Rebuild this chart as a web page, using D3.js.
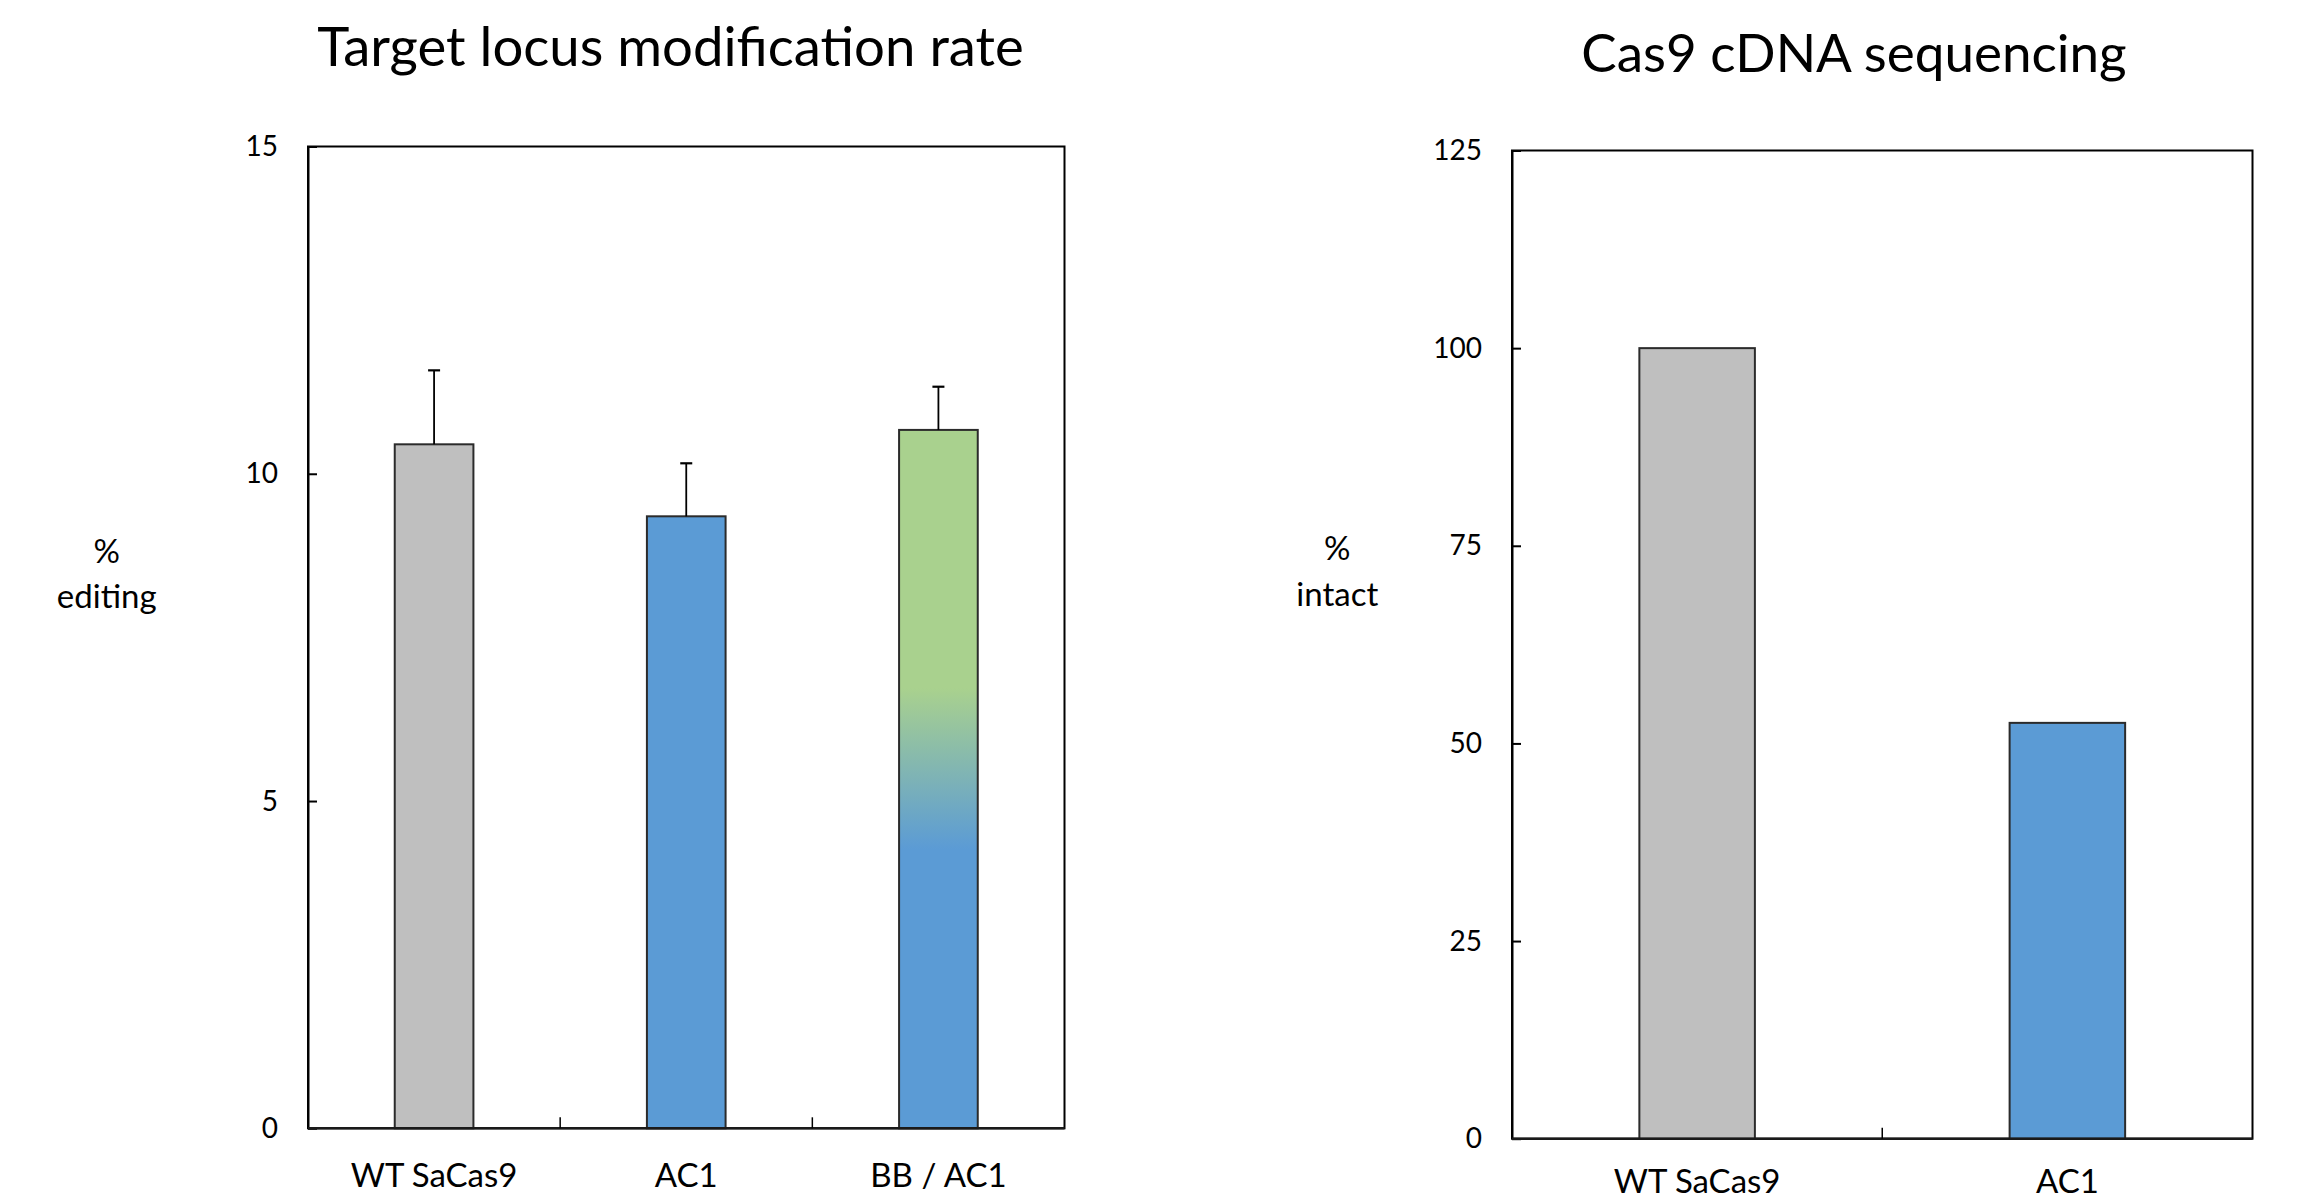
<html>
  <head>
    <style>
      body { margin: 0; background: #fff; }
      text { font-family: Lato, "Open Sans", sans-serif; fill: #000; }
    </style>
  </head>
  <body>
    <script src="https://d3js.org/d3.v7.min.js"></script>
    <script>
    // data
    var editCats = ["WT SaCas9", "AC1", "BB / AC1"];
    var editVals = [10.45, 9.35, 10.67];
    var editErr = [1.13, 0.81, 0.66];
    var editTicks = [0, 5, 10, 15];

    var intactCats = ["WT SaCas9", "AC1"];
    var intactVals = [100, 52.6];
    var intactTicks = [0, 25, 50, 75, 100, 125];

    var width = 2298, height = 1202;

    var svg = d3.select("body")
        .append("svg")
        .attr("width", width)
        .attr("height", height);

    // gradient for the BB / AC1 bar (green on top fading into blue)
    var grad = svg.append("defs").append("linearGradient")
        .attr("id", "bbgrad")
        .attr("x1", 0).attr("y1", 0).attr("x2", 0).attr("y2", 1);
    grad.append("stop").attr("offset", 0).attr("stop-color", "#A9D18E");
    grad.append("stop").attr("offset", 0.37).attr("stop-color", "#A9D18E");
    grad.append("stop").attr("offset", 0.6).attr("stop-color", "#5B9BD5");
    grad.append("stop").attr("offset", 1).attr("stop-color", "#5B9BD5");

    var fills = {
      "WT SaCas9": "#BFBFBF",
      "AC1": "#5B9BD5",
      "BB / AC1": "url(#bbgrad)"
    };

    function drawPanel(opt) {
      var x = d3.scaleBand().domain(opt.cats).range([opt.x0, opt.x1]).padding(0);
      var y = d3.scaleLinear().domain([0, opt.max]).range([opt.y1, opt.y0]);
      var g = svg.append("g");

      // frame
      g.append("rect")
          .attr("x", opt.x0).attr("y", opt.y0)
          .attr("width", opt.x1 - opt.x0).attr("height", opt.y1 - opt.y0)
          .attr("fill", "none").attr("stroke", "#000").attr("stroke-width", 2);

      // y axis, ticks pointing inwards
      var ya = g.append("g")
          .attr("transform", "translate(" + opt.x0 + ",0)")
          .call(d3.axisLeft(y).tickValues(opt.ticks).tickSizeInner(-9).tickSizeOuter(0).tickPadding(30));
      ya.select(".domain").attr("stroke-width", 2);
      ya.selectAll(".tick line").attr("stroke-width", 2);
      ya.selectAll("text").attr("font-size", 28).attr("font-family", "Lato");

      // bars
      var bw = x.bandwidth() * 0.312;
      g.selectAll(".bar")
          .data(opt.vals)
        .enter().append("rect")
          .attr("x", function(d, i) { return x(opt.cats[i]) + x.bandwidth() / 2 - bw / 2; })
          .attr("y", function(d) { return y(d); })
          .attr("width", bw)
          .attr("height", function(d) { return y(0) - y(d); })
          .attr("fill", function(d, i) { return fills[opt.cats[i]]; })
          .attr("stroke", "#2b2b2b")
          .attr("stroke-width", 2);

      // error bars (upper only)
      if (opt.err) {
        opt.vals.forEach(function(v, i) {
          var cx = x(opt.cats[i]) + x.bandwidth() / 2;
          g.append("line")
              .attr("x1", cx).attr("x2", cx)
              .attr("y1", y(v)).attr("y2", y(v + opt.err[i]))
              .attr("stroke", "#000").attr("stroke-width", 1.8);
          g.append("line")
              .attr("x1", cx - 6).attr("x2", cx + 6)
              .attr("y1", y(v + opt.err[i])).attr("y2", y(v + opt.err[i]))
              .attr("stroke", "#000").attr("stroke-width", 2.2);
        });
      }

      // x axis line + boundary ticks
      g.append("line")
          .attr("x1", opt.x0).attr("x2", opt.x1)
          .attr("y1", opt.y1).attr("y2", opt.y1)
          .attr("stroke", "#1a1a1a").attr("stroke-width", 2.5);
      g.selectAll(".btick")
          .data(opt.cats.slice(1))
        .enter().append("line")
          .attr("x1", function(d) { return x(d); })
          .attr("x2", function(d) { return x(d); })
          .attr("y1", opt.y1).attr("y2", opt.y1 - 11)
          .attr("stroke", "#000").attr("stroke-width", 1.5);

      var xa = g.append("g")
          .attr("transform", "translate(0," + opt.y1 + ")")
          .call(d3.axisBottom(x).tickSize(0));
      xa.select(".domain").remove();
      xa.selectAll("text")
          .attr("y", opt.labOff).attr("dy", 0)
          .attr("font-size", 33).attr("font-family", "Lato");

      // titles
      svg.append("text")
          .attr("x", opt.titleX).attr("y", opt.titleY)
          .attr("text-anchor", "middle")
          .attr("font-size", opt.titleSize)
          .text(opt.title);

      var yl = svg.append("text")
          .attr("text-anchor", "middle")
          .attr("font-size", 33);
      yl.append("tspan").attr("x", opt.labX).attr("y", opt.labY).text("%");
      yl.append("tspan").attr("x", opt.labX).attr("y", opt.labY + 45.6).text(opt.label);
    }

    drawPanel({
      cats: editCats, vals: editVals, err: editErr, ticks: editTicks, max: 15,
      x0: 308, x1: 1064.5, y0: 146.5, y1: 1128.3, labOff: 59,
      title: "Target locus modification rate", titleX: 670.5, titleY: 66, titleSize: 54.5,
      label: "editing", labX: 106.7, labY: 562.7
    });

    drawPanel({
      cats: intactCats, vals: intactVals, err: null, ticks: intactTicks, max: 125,
      x0: 1512, x1: 2252.5, y0: 150.5, y1: 1138.7, labOff: 54.5,
      title: "Cas9 cDNA sequencing", titleX: 1854, titleY: 72, titleSize: 53,
      label: "intact", labX: 1337.3, labY: 560
    });
    </script>
  </body>
</html>
